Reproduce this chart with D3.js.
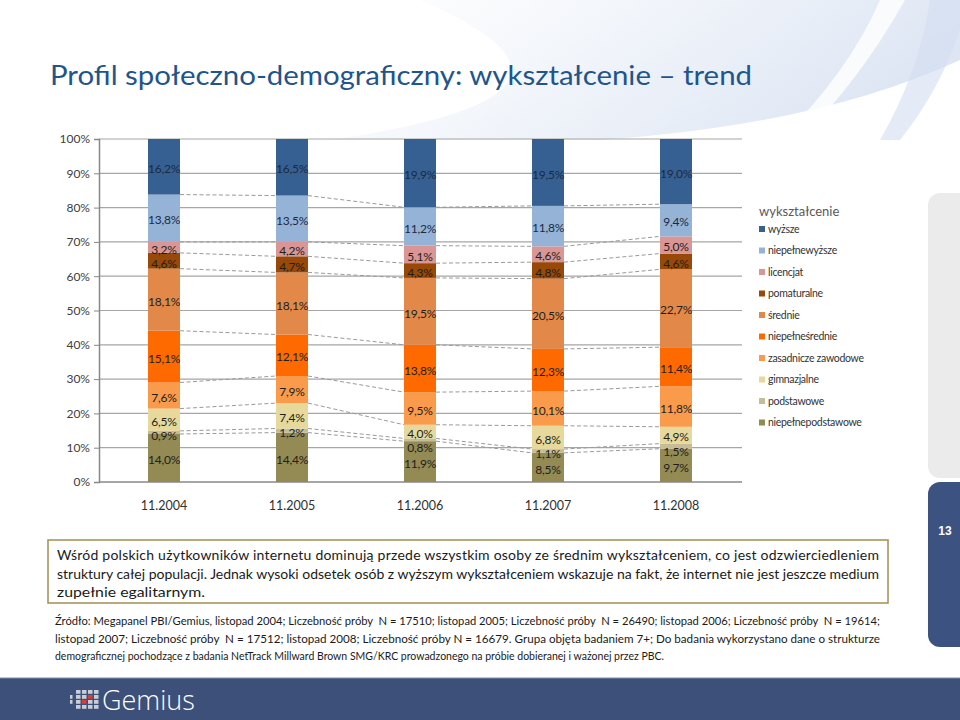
<!DOCTYPE html>
<html><head><meta charset="utf-8">
<script src="https://cdn.jsdelivr.net/npm/d3@7"></script>
<style>body{margin:0;background:#fff;}svg{display:block;font-family:Lato,"Open Sans",sans-serif;}</style>
</head><body>
<svg id="c" width="960" height="720"></svg>
<script>
const years = ["11.2004","11.2005","11.2006","11.2007","11.2008"];
const seriesNames = ["niepełne podstawowe","podstawowe","gimnazjalne","zasadnicze zawodowe","niepełne średnie","średnie","pomaturalne","licencjat","niepełne wyższe","wyższe"];
const seriesColors = ["#948A54","#C4BD97","#E6D99B","#F99B4A","#FF6A00","#E2894A","#984807","#D99694","#95B3D7","#366092"];
const niepelnePodstawowe = [14.0,14.4,11.9,8.5,9.7];
const podstawowe = [0.9,1.2,0.8,1.1,1.5];
const gimnazjalne = [6.5,7.4,4.0,6.8,4.9];
const zasadniczeZawodowe = [7.6,7.9,9.5,10.1,11.8];
const niepelneSrednie = [15.1,12.1,13.8,12.3,11.4];
const srednie = [18.1,18.1,19.5,20.5,22.7];
const pomaturalne = [4.6,4.7,4.3,4.8,4.6];
const licencjat = [3.2,4.2,5.1,4.6,5.0];
const niepelneWyzsze = [13.8,13.5,11.2,11.8,9.4];
const wyzsze = [16.2,16.5,19.9,19.5,19.0];
const yTicks = [0,10,20,30,40,50,60,70,80,90,100];
const seriesValues = [niepelnePodstawowe,podstawowe,gimnazjalne,zasadniczeZawodowe,niepelneSrednie,srednie,pomaturalne,licencjat,niepelneWyzsze,wyzsze];

const svg = d3.select("#c");
const defs = svg.append("defs");
const g1 = defs.append("linearGradient").attr("id","sw").attr("x1","0").attr("y1","0").attr("x2","1").attr("y2","0.3");
g1.append("stop").attr("offset","0").attr("stop-color","#e4ebf6").attr("stop-opacity",0);
g1.append("stop").attr("offset","0.6").attr("stop-color","#dae3f2").attr("stop-opacity",0.5);
g1.append("stop").attr("offset","1").attr("stop-color","#cfdbef").attr("stop-opacity",0.7);

svg.append("path").attr("d","M420,0 L960,0 L960,60 Q820,125 600,140 L330,140 Q640,95 420,0 Z").attr("fill","url(#sw)");
svg.append("path").attr("d","M880,0 L905,0 Q860,80 800,140 L780,140 Q850,70 880,0 Z").attr("fill","#ffffff").attr("opacity",0.8);
svg.append("path").attr("d","M930,0 L960,0 L960,30 Q940,90 900,140 L880,140 Q920,70 930,0 Z").attr("fill","#d3def0").attr("opacity",0.6);

// title
svg.append("text").attr("x",50).attr("y",85).attr("font-size",27).attr("font-weight",400).attr("fill","#1E558C")
  .attr("textLength",702).attr("lengthAdjust","spacingAndGlyphs")
  .text("Profil społeczno-demograficzny: wykształcenie – trend");

// chart
const x = d3.scaleBand().domain(years).range([100,740]).paddingInner(0.75).paddingOuter(0.375);
const y = d3.scaleLinear().domain([0,100]).range([482,139]);

const stackData = years.map((yr,i)=>{const o={year:yr}; seriesNames.forEach((s,k)=>o[s]=seriesValues[k][i]); return o;});
const stacked = d3.stack().keys(seriesNames)(stackData);

svg.append("g").selectAll("line").data(yTicks.filter(t=>t>0)).join("line")
  .attr("x1",99).attr("x2",742).attr("y1",d=>y(d)).attr("y2",d=>y(d))
  .attr("stroke","#A6A6A6").attr("stroke-width",1.2);

const ya = svg.append("g").attr("transform","translate(99,0)")
  .call(d3.axisLeft(y).tickValues(yTicks).tickFormat(d=>d+"%").tickSize(5).tickPadding(4));
ya.select(".domain").attr("stroke","#888").attr("stroke-width",1.5);
ya.selectAll(".tick line").attr("stroke","#888");
ya.selectAll("text").attr("font-size",12).attr("fill","#404040").attr("font-family","Lato,sans-serif");

svg.append("line").attr("x1",99).attr("x2",742).attr("y1",y(0)).attr("y2",y(0)).attr("stroke","#888").attr("stroke-width",1.5);

const bw = x.bandwidth();
const conn = [];
stacked.slice(0, stacked.length-1).forEach(layer=>{
  for(let i=0;i<years.length-1;i++){
    conn.push({x1:x(years[i])+bw, y1:y(layer[i][1]), x2:x(years[i+1]), y2:y(layer[i+1][1])});
  }
});
svg.append("g").selectAll("line").data(conn).join("line")
  .attr("x1",d=>d.x1).attr("x2",d=>d.x2).attr("y1",d=>d.y1).attr("y2",d=>d.y2)
  .attr("stroke","#9a9a9a").attr("stroke-width",1).attr("stroke-dasharray","4,2.5");

const layers = svg.append("g").selectAll("g").data(stacked).join("g").attr("fill",(d,i)=>seriesColors[i]);
layers.selectAll("rect").data(d=>d).join("rect")
  .attr("x",d=>x(d.data.year)).attr("width",bw)
  .attr("y",d=>y(d[1])).attr("height",d=>y(d[0])-y(d[1]));

const fmt = v=>v.toFixed(1).replace(".",",")+"%";
const labels = [];
years.forEach((yr,i)=>{
  const col = stacked.map((layer,k)=>({k, v:seriesValues[k][i], yy:(y(layer[i][0])+y(layer[i][1]))/2+2, cx:x(yr)+bw/2}));
  col.sort((a,b)=>a.yy-b.yy);
  for(let j=1;j<col.length;j++){ if(col[j].yy-col[j-1].yy<14.5) col[j].yy=col[j-1].yy+14.5; }
  col.forEach(c=>labels.push(c));
});
svg.append("g").selectAll("text").data(labels).join("text")
  .attr("x",d=>d.cx).attr("y",d=>d.yy).attr("dy","0.35em").attr("text-anchor","middle")
  .attr("font-size",12).attr("fill",d=>d.k>=8?"#1b2a44":"#1e1e1e").attr("letter-spacing",-0.2)
  .text(d=>fmt(d.v));

svg.append("g").selectAll("text").data(years).join("text")
  .attr("x",d=>x(d)+bw/2).attr("y",510).attr("text-anchor","middle").attr("font-size",12.5).attr("fill","#303030")
  .text(d=>d);

svg.append("text").attr("x",759).attr("y",216).attr("font-size",13).attr("fill","#595959").text("wykształcenie");
const legOrder = seriesNames.map((s,k)=>k).reverse();
const leg = svg.append("g").selectAll("g").data(legOrder).join("g")
  .attr("transform",(d,i)=>`translate(759,${229+i*21.5})`);
leg.append("rect").attr("x",0).attr("y",-3).attr("width",6).attr("height",6).attr("fill",d=>seriesColors[d]);
leg.append("text").attr("x",9).attr("y",0).attr("dy","0.35em").attr("font-size",10.5).attr("fill","#333")
  .attr("letter-spacing",-0.3).text(d=>seriesNames[d].replace(/ (?!zawodowe)/,""));

svg.append("rect").attr("x",928).attr("y",193).attr("width",50).attr("height",285).attr("rx",12).attr("fill","#EBEBEB");
svg.append("rect").attr("x",928).attr("y",482).attr("width",50).attr("height",165).attr("rx",12).attr("fill","#3C5280");
svg.append("text").attr("x",945).attr("y",535).attr("text-anchor","middle").attr("font-size",12).attr("font-weight","bold")
  .attr("fill","#fff").attr("font-family","Liberation Sans,Arial,sans-serif").text("13");

svg.append("rect").attr("x",48).attr("y",540).attr("width",840).attr("height",63).attr("fill","#fff").attr("stroke","#A58E4E").attr("stroke-width",1.5);
const boxLines = ["Wśród polskich użytkowników internetu dominują przede wszystkim osoby ze średnim wykształceniem, co jest odzwierciedleniem",
  "struktury całej populacji. Jednak wysoki odsetek osób z wyższym wykształceniem wskazuje na fakt, że internet nie jest jeszcze medium",
  "zupełnie egalitarnym."];
boxLines.forEach((t,i)=>{
  const tx = svg.append("text").attr("x",57).attr("y",560+i*18.5).attr("font-size",14).attr("fill","#1a1a1a").text(t);
  if(i<2) tx.attr("textLength",822).attr("lengthAdjust","spacing");
  else tx.attr("textLength",148).attr("lengthAdjust","spacingAndGlyphs");
});

const srcLines = ["Źródło: Megapanel PBI/Gemius, listopad 2004; Liczebność próby  N = 17510; listopad 2005; Liczebność próby  N = 26490; listopad 2006; Liczebność próby  N = 19614;",
  "listopad 2007; Liczebność próby  N = 17512; listopad 2008; Liczebność próby N = 16679. Grupa objęta badaniem 7+; Do badania wykorzystano dane o strukturze",
  "demograficznej pochodzące z badania NetTrack Millward Brown SMG/KRC prowadzonego na próbie dobieranej i ważonej przez PBC."];
const srcLen = [825,825,609];
srcLines.forEach((t,i)=>{
  svg.append("text").attr("x",55).attr("y",625+i*17.5).attr("font-size",11).attr("fill","#1a1a1a")
    .attr("textLength",srcLen[i]).attr("lengthAdjust","spacingAndGlyphs").attr("xml:space","preserve").text(t);
});

svg.append("rect").attr("x",0).attr("y",678).attr("width",960).attr("height",42).attr("fill","#3D5079");
svg.append("line").attr("x1",0).attr("x2",960).attr("y1",678).attr("y2",678).attr("stroke","#7f8fae").attr("stroke-width",1);
const logoCells = [];
for(let c=0;c<5;c++){ for(let r=0;r<4;r++){ if(c===0 && (r===0||r===3)) continue; logoCells.push({c,r}); } }
svg.append("g").selectAll("rect").data(logoCells).join("rect")
  .attr("x",d=>70+d.c*6).attr("y",d=>690+d.r*5).attr("width",d=>d.c===0?2.5:4.5).attr("height",3.8)
  .attr("fill",d=>(d.c===3&&d.r===1)?"#e23a3a":(d.c===2&&d.r===2?"#e23a3a":"#c9cdd6"));
svg.append("text").attr("x",102).attr("y",710).attr("font-size",27).attr("font-weight",300).attr("fill","#fff")
  .attr("font-family","'Open Sans',sans-serif").text("Gemius");
</script>
</body></html>
